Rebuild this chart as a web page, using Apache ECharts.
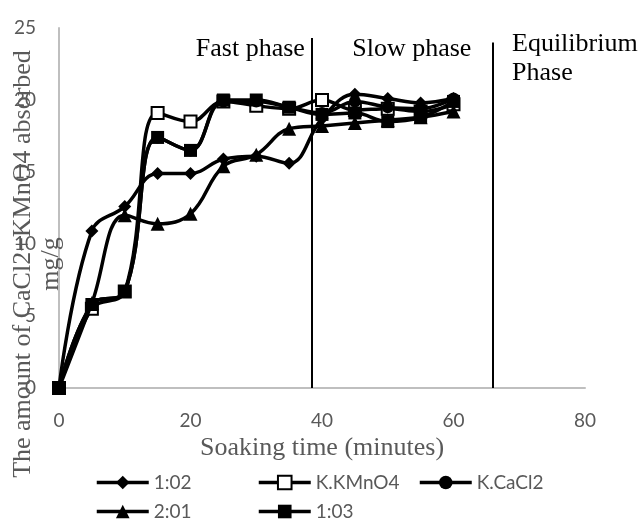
<!DOCTYPE html>
<html>
<head>
<meta charset="utf-8">
<script src="https://cdn.jsdelivr.net/npm/echarts@6/dist/echarts.min.js"></script>
<style>html,body{margin:0;padding:0;background:#fff}#c{width:643px;height:520px}</style>
</head>
<body>
<div id="c"></div>
<script>
// ---- data ----
var times = [0, 5, 10, 15, 20, 25, 30, 35, 40, 45, 50, 55, 60];
var s1_02   = [0, 10.9, 12.6, 14.9, 14.9, 15.9, 16.1, 15.6, 18.7, 20.4, 20.1, 19.8, 20.1];
var sKMnO4  = [0, 5.5, 6.7, 19.1, 18.5, 19.9, 19.6, 19.4, 20.0, 19.3, 19.4, 19.2, 19.7];
var sKCaCl2 = [0, 5.8, 6.7, 17.4, 16.5, 19.9, 19.9, 19.5, 19.1, 19.9, 19.5, 19.4, 20.1];
var s2_01   = [0, 5.9, 12.0, 11.4, 12.1, 15.4, 16.2, 18.0, 18.2, 18.4, 18.6, 18.8, 19.2];
var s1_03   = [0, 5.8, 6.7, 17.4, 16.5, 20.0, 20.0, 19.5, 19.0, 19.1, 18.5, 18.8, 19.9];
var seriesNames = ['1:02', 'K.KMnO4', 'K.CaCl2', '2:01', '1:03'];
var xTicks = [0, 20, 40, 60, 80];
var yTicks = [0, 5, 10, 15, 20, 25];
var phaseX = [38.5, 66];
var phaseTop = [24.3, 24.0];
var phaseLabels = [
  {text: 'Fast phase', x: 37.4, y: 23.54, side: 'left'},
  {text: 'Slow phase', x: 44.6, y: 23.54, side: 'right'},
  {text: 'Equilibrium\nPhase', x: 68.9, y: 22.85, side: 'right'}
];
var xTitle = 'Soaking time (minutes)';
var yTitle = 'The amount of CaCl2+KMnO4 absorbed\nmg/g';

function pairs(ys) { return times.map(function (t, i) { return [t, ys[i]]; }); }

var serif = '"Liberation Serif", "Times New Roman", serif';
var sans = 'Lato, "Open Sans", sans-serif';
var gray = '#595959';

var symbols = ['diamond', 'emptyRect', 'circle', 'triangle', 'rect'];
var sizes = [13, 12, 12, 14, 13];
var values = [s1_02, sKMnO4, sKCaCl2, s2_01, s1_03];

var series = values.map(function (v, i) {
  return {
    name: seriesNames[i],
    type: 'line',
    data: pairs(v),
    smooth: 0.4,
    symbol: symbols[i],
    symbolSize: sizes[i],
    showAllSymbol: true,
    lineStyle: {color: '#000', width: 3.5},
    itemStyle: {color: '#000', borderColor: '#000', borderWidth: symbols[i] === 'emptyRect' ? 2 : 0},
    animation: false,
    z: 3 + i
  };
});

series[0].markLine = {
  silent: true,
  symbol: ['none', 'none'],
  label: {show: false},
  lineStyle: {color: '#000', width: 2, type: 'solid'},
  animation: false,
  data: phaseX.map(function (x, i) { return [{coord: [x, 0]}, {coord: [x, phaseTop[i]]}]; })
};
series[0].markPoint = {
  silent: true,
  symbol: 'circle',
  symbolSize: 0,
  animation: false,
  data: phaseLabels.map(function (p) {
    return {
      coord: [p.x, p.y],
      label: {
        show: true, formatter: p.text, position: p.side, distance: 0,
        color: '#000', fontFamily: serif, fontSize: 26, lineHeight: 29
      }
    };
  })
};

var legendText = {color: gray, fontFamily: sans, fontSize: 19};
var legendSlots = [[95, 473], [257, 473], [418, 473], [95, 502], [257, 502]];
var legends = seriesNames.map(function (n, i) {
  return {data: [n], left: legendSlots[i][0], top: legendSlots[i][1], padding: 0, itemGap: 0,
    itemWidth: 52, itemHeight: 17, textStyle: legendText,
    lineStyle: {width: 3.5, color: '#000'}};
});

var option = {
  backgroundColor: '#fff',
  animation: false,
  grid: {left: 59, right: 58, top: 28, bottom: 132, containLabel: false},
  xAxis: {
    type: 'value', min: xTicks[0], max: xTicks[xTicks.length - 1], interval: 20,
    axisLine: {show: true, onZero: false, lineStyle: {color: '#bfbfbf', width: 2}},
    axisTick: {show: false},
    splitLine: {show: false},
    axisLabel: {color: gray, fontFamily: sans, fontSize: 19, margin: 23},
    name: xTitle, nameLocation: 'middle', nameGap: 46,
    nameTextStyle: {color: gray, fontFamily: serif, fontSize: 26}
  },
  yAxis: {
    type: 'value', min: yTicks[0], max: yTicks[yTicks.length - 1], interval: 5,
    axisLine: {show: true, lineStyle: {color: '#bfbfbf', width: 2}},
    axisTick: {show: false},
    splitLine: {show: false},
    axisLabel: {color: gray, fontFamily: sans, fontSize: 19, margin: 23}
  },
  legend: legends,
  graphic: [{
    type: 'text', z: 10,
    rotation: Math.PI / 2,
    style: {text: yTitle, fill: gray, font: '26px ' + serif, textAlign: 'center', textVerticalAlign: 'middle', lineHeight: 28},
    position: [37, 264]
  }],
  series: series
};

var chart = echarts.init(document.getElementById('c'), null, {renderer: 'canvas'});
chart.setOption(option);
</script>
</body>
</html>
